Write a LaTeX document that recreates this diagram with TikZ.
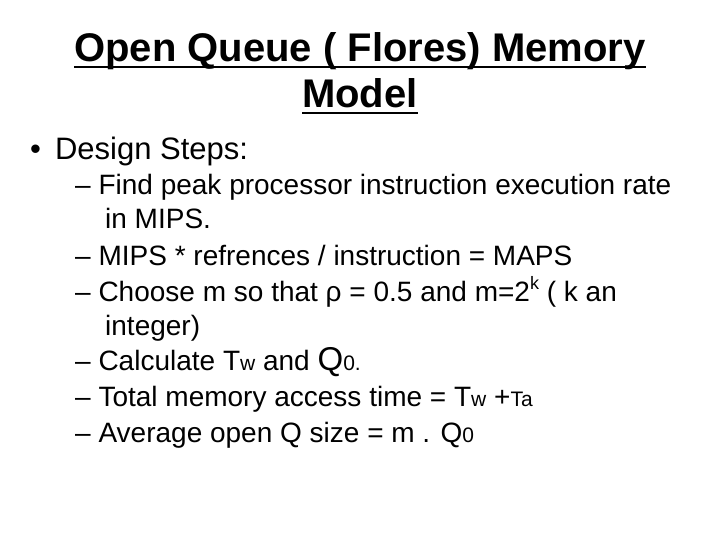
\documentclass[tikz,border=0pt]{standalone}
\usepackage{fontspec}
\setmainfont{Liberation Sans}
\begin{document}
\begin{tikzpicture}[x=1pt,y=1pt,
  ttl/.style={anchor=base,inner sep=0,font=\fontsize{40}{46}\selectfont\bfseries},
  uln/.style={line width=2.8pt},
  lvl/.style={anchor=base west,font=\fontsize{31}{36}\selectfont},
  sub/.style={anchor=base west,font=\fontsize{28}{32}\selectfont,inner sep=0}]
\useasboundingbox (0,0) rectangle (720,-540);
\node[ttl] (t1) at (360,-62) {Open Queue ( Flores) Memory};
\node[ttl] (t2) at (360,-108) {Model};
\draw[uln] ([yshift=-5]t1.base west) -- ([yshift=-5]t1.base east);
\draw[uln] ([yshift=-5]t2.base west) -- ([yshift=-5]t2.base east);
\node[lvl,inner sep=0] (b1) at (30,-160) {•\hspace{14pt}Design Steps:};
\node[sub] (s1) at (75,-195) {– Find peak processor instruction execution rate};
\node[sub] (s1b) at (105,-229) {in MIPS.};
\node[sub] (s2) at (75,-265) {– MIPS * refrences / instruction = MAPS};
\node[sub] (s3) at (75,-301) {– Choose m so that ρ = 0.5 and m=2\raisebox{0.8ex}{\fontsize{18}{20}\selectfont k} ( k an};
\node[sub] (s3b) at (105,-335) {integer)};
\node[sub] (s4) at (75,-370) {– Calculate T{\fontsize{21}{24}\selectfont w} and {\fontsize{33}{36}\selectfont Q}{\fontsize{21}{24}\selectfont 0.}};
\node[sub] (s5) at (75,-406) {– Total memory access time = T{\fontsize{21}{24}\selectfont w} +{\fontsize{21}{24}\selectfont Ta}};
\node[sub] (s6) at (75,-442) {– Average open Q size = m . Q{\fontsize{21}{24}\selectfont 0}};
\end{tikzpicture}
\end{document}
